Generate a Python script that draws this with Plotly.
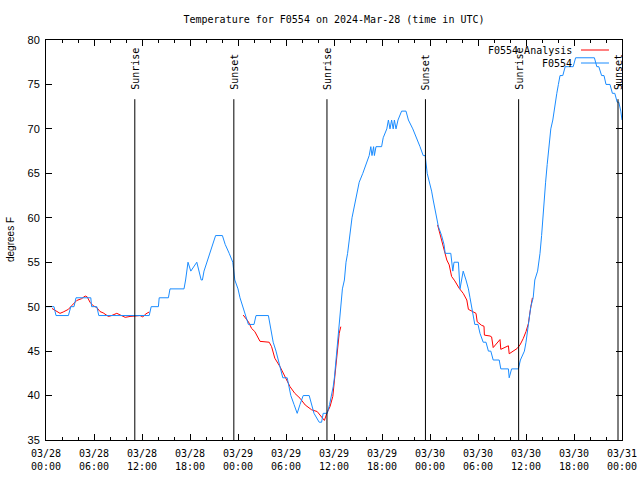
import plotly.graph_objects as go
import pandas as pd

BASE = pd.Timestamp("2024-03-28 00:00")

# Observed station temperature (hours since 03/28 00:00 UTC, degrees F)
obs_hours = [0.0, 1.0, 1.25, 2.8, 3.1, 3.5, 3.75, 5.6, 5.7, 6.35, 6.6, 12.9, 13.15, 14.05, 14.15,
             15.3, 15.5, 17.25, 17.45, 17.75, 18.1, 18.85, 19.4, 19.55, 19.75, 20.1, 20.5, 20.85,
             21.2, 22.05, 22.4, 22.9, 23.35, 23.6, 24.0, 24.25, 24.6, 24.9, 25.3, 26.0, 26.25,
             27.8, 28.0, 28.2, 28.4, 28.75, 29.05, 29.3, 29.6, 30.15, 30.4, 30.6, 31.0, 31.4,
             31.75, 32.15, 32.9, 33.2, 33.5, 34.15, 34.45, 34.65, 35.15, 35.45, 35.7, 35.9,
             36.05, 36.25, 36.4, 36.55, 36.7, 36.85, 37.05, 37.3, 37.5, 37.7, 38.0, 38.25, 38.7,
             39.15, 39.6, 40.0, 40.4, 40.6, 40.75, 40.95, 41.05, 41.25, 41.95, 42.15, 42.6, 42.8,
             43.0, 43.2, 43.4, 43.55, 43.75, 44.0, 44.45, 45.0, 45.3, 45.85, 46.35, 46.75, 47.15,
             47.4, 47.65, 47.95, 48.2, 48.4, 48.6, 48.8, 49.05, 49.45, 49.75, 49.9, 50.6, 50.85,
             51.0, 51.55, 51.75, 51.95, 52.15, 52.5, 52.8, 53.0, 53.2, 53.45, 53.6, 54.0, 54.25,
             54.65, 55.0, 55.3, 55.6, 55.9, 56.65, 56.85, 57.8, 57.9, 58.2, 59.05, 59.3, 59.8,
             60.0, 60.3, 60.6, 60.9, 61.1, 61.45, 61.75, 61.95, 62.1, 62.25, 62.45, 62.65, 62.9,
             63.1, 63.35, 63.5, 63.7, 63.85, 64.05, 64.25, 64.6, 64.9, 65.9, 66.2, 68.55, 68.85,
             69.1, 69.45, 69.75, 70.0, 70.5, 70.8, 71.1, 71.4, 71.6, 71.85, 72.0]
obs_temps = [50, 50, 49, 49, 50, 50, 51, 51, 50, 50, 49, 49, 50, 50, 51,
             51, 52, 52, 53, 55, 54, 55, 53, 53, 54, 55, 56, 57,
             58, 58, 57, 56, 55, 53, 52, 51, 50, 49, 48, 48, 49,
             49, 48, 47, 46, 45, 44, 43, 42, 42, 41, 40, 39, 38,
             39, 40, 40, 39, 38, 37, 37, 38, 38, 39, 40, 41,
             42, 44, 46, 47, 49, 50, 52, 53, 55, 56, 58, 60, 62,
             64, 65, 66, 67, 68, 67, 68, 67, 68, 68, 69, 70, 71,
             70, 71, 70, 71, 70, 71, 72, 72, 71, 70, 69, 68, 67,
             67, 65, 64, 63, 62, 61, 60, 59, 58, 57, 56, 56, 54,
             55, 55, 52, 53, 54, 53, 52, 51, 50, 49, 48, 48, 47,
             46, 46, 45, 45, 44, 44, 43, 43, 42, 43, 43, 44, 45,
             46, 48, 50, 51, 53, 54, 56, 58, 60, 62, 64, 66, 68,
             70, 71, 72, 73, 74, 75, 76, 76, 77, 77, 78, 78, 77,
             77, 76, 76, 75, 75, 74, 74, 73, 73, 72, 71]

# Analysis temperature (None = gap)
ana_hours = [0.75, 1.25, 1.75, 2.15, 2.8, 3.2, 3.85, 4.45, 4.9, 5.15, 5.5, 5.9, 6.35, 6.75, 7.15,
             7.8, 8.2, 8.85, 9.25, 9.9, 10.5, 11.75, 12.1, 12.5, 12.9, None,
             24.65, 25.1, 25.3, 25.7, 26.1, 26.75, 27.9, 28.2, 28.6, 29.25, 29.9, 30.5, 31.1,
             31.75, 32.4, 33.2, 33.9, 34.25, 34.8, 35.1, 35.5, 35.85, 36.0, 36.25, 36.4, 36.65,
             36.85, None,
             48.95, 49.45, 49.8, 50.1, 50.4, 50.7, 51.1, 51.65, 52.15, 52.6, 52.8, 53.35, 53.75,
             53.9, 54.45, 54.75, 54.8, 55.5, 55.7, 55.9, 56.75, 56.85, 57.6, 57.8, 57.9, 58.4,
             58.9, 59.25, 59.65, 60.0, 60.3, 60.5, 60.7, 60.8]
ana_temps = [49.8, 49.5, 49.25, 49.4, 49.7, 50.1, 50.7, 50.9, 51.2, 51.1, 50.5, 50.1, 49.9, 49.45, 49.3,
             48.9, 49.0, 49.25, 49.1, 48.8, 48.9, 49.0, 48.85, 49.2, 49.4, None,
             49.06, 48.5, 48.3, 47.55, 47.2, 46.1, 46.0, 45.5, 44.2, 43.25, 42.1, 41.0, 40.25,
             39.7, 38.94, 38.4, 38.2, 37.8, 37.2, 38.0, 38.75, 39.9, 41.4, 43.25, 44.75, 47.0,
             47.75, None,
             59.2, 57.5, 56.2, 55.25, 54.7, 53.4, 52.9, 52.07, 51.5, 50.75, 49.7, 49.4, 49.25,
             48.3, 47.9, 47.8, 46.8, 46.7, 46.6, 45.4, 46.3, 45.2, 45.5, 45.6, 44.7, 45.05,
             45.3, 45.7, 46.4, 47.2, 48.1, 49.4, 50.75, 51.0]

# Sun events (hours since 03/28 00:00 UTC)
sun_hours = [11.1, 23.48, 35.12, 47.43, 59.08, 71.5]
sun_labels = ["Sunrise", "Sunset", "Sunrise", "Sunset", "Sunrise", "Sunset"]

def to_time(h):
    return None if h is None else BASE + pd.Timedelta(hours=h)

obs_x = [to_time(h) for h in obs_hours]
ana_x = [to_time(h) for h in ana_hours]
sun_x = [to_time(h) for h in sun_hours]

RED = "#ff0000"
BLUE = "#1a8cff"
MONO = "DejaVu Sans Mono"

fig = go.Figure()
fig.add_trace(go.Scatter(x=ana_x, y=ana_temps, mode="lines", name="F0554 Analysis",
                         line=dict(color=RED, width=1), connectgaps=False))
fig.add_trace(go.Scatter(x=obs_x, y=obs_temps, mode="lines", name="F0554",
                         line=dict(color=BLUE, width=1)))

for t, lab in zip(sun_x, sun_labels):
    fig.add_shape(type="line", xref="x", yref="paper", x0=t, x1=t, y0=0, y1=0.852,
                  line=dict(color="black", width=1))
    fig.add_annotation(x=t, xref="x", y=0.87, yref="paper", text=lab, textangle=-90,
                       showarrow=False, xanchor="center", yanchor="bottom",
                       font=dict(family=MONO, size=10, color="black"))

# manual legend (gnuplot style: text then sample)
legend_items = [("F0554 Analysis", RED, 0.975), ("F0554", BLUE, 0.9425)]
for name, col, yy in legend_items:
    fig.add_annotation(x=0.9175, xref="paper", y=yy, yref="paper", text=name, showarrow=False,
                       xanchor="right", yanchor="middle",
                       font=dict(family=MONO, size=10, color="black"))
    fig.add_shape(type="line", xref="paper", yref="paper", x0=0.9288, x1=0.9774, y0=yy, y1=yy,
                  line=dict(color=col, width=1))

fig.add_annotation(x=-0.0625, xref="paper", y=0.5, yref="paper", text="degrees F", textangle=-90,
                   showarrow=False, xanchor="center", yanchor="middle",
                   font=dict(family="Liberation Sans", size=10, color="black"))

fig.update_layout(
    width=640, height=480,
    margin=dict(l=46, r=18, t=40, b=40, autoexpand=False),
    paper_bgcolor="white", plot_bgcolor="white",
    showlegend=False,
    title=dict(text="Temperature for F0554 on 2024-Mar-28 (time in UTC)",
               x=(46 + 622) / 2 / 640, xanchor="center", y=1 - 19 / 480, yanchor="middle",
               yref="container", font=dict(family=MONO, size=10, color="black")),
)
fig.update_xaxes(
    range=[BASE, BASE + pd.Timedelta(hours=72)],
    tick0=BASE, dtick=6 * 3600 * 1000, tickformat="%m/%d<br>%H:%M",
    ticks="inside", ticklen=6, tickcolor="black", tickwidth=1,
    minor=dict(dtick=2 * 3600 * 1000, ticks="inside", ticklen=3, tickcolor="black", tickwidth=1),
    showline=True, linecolor="black", linewidth=1, mirror="ticks",
    showgrid=False, zeroline=False, ticklabelstandoff=4,
    tickfont=dict(family=MONO, size=10, color="black"),
)
fig.update_yaxes(
    range=[35, 80], tick0=35, dtick=5,
    ticks="inside", ticklen=6, tickcolor="black", tickwidth=1,
    showline=True, linecolor="black", linewidth=1, mirror="ticks",
    showgrid=False, zeroline=False, ticklabelstandoff=3,
    tickfont=dict(family="Liberation Sans", size=11, color="black"),
)

fig.write_html("out.html", config={"displayModeBar": False},
               post_script="document.body.style.margin='0';document.body.style.overflow='hidden';")
